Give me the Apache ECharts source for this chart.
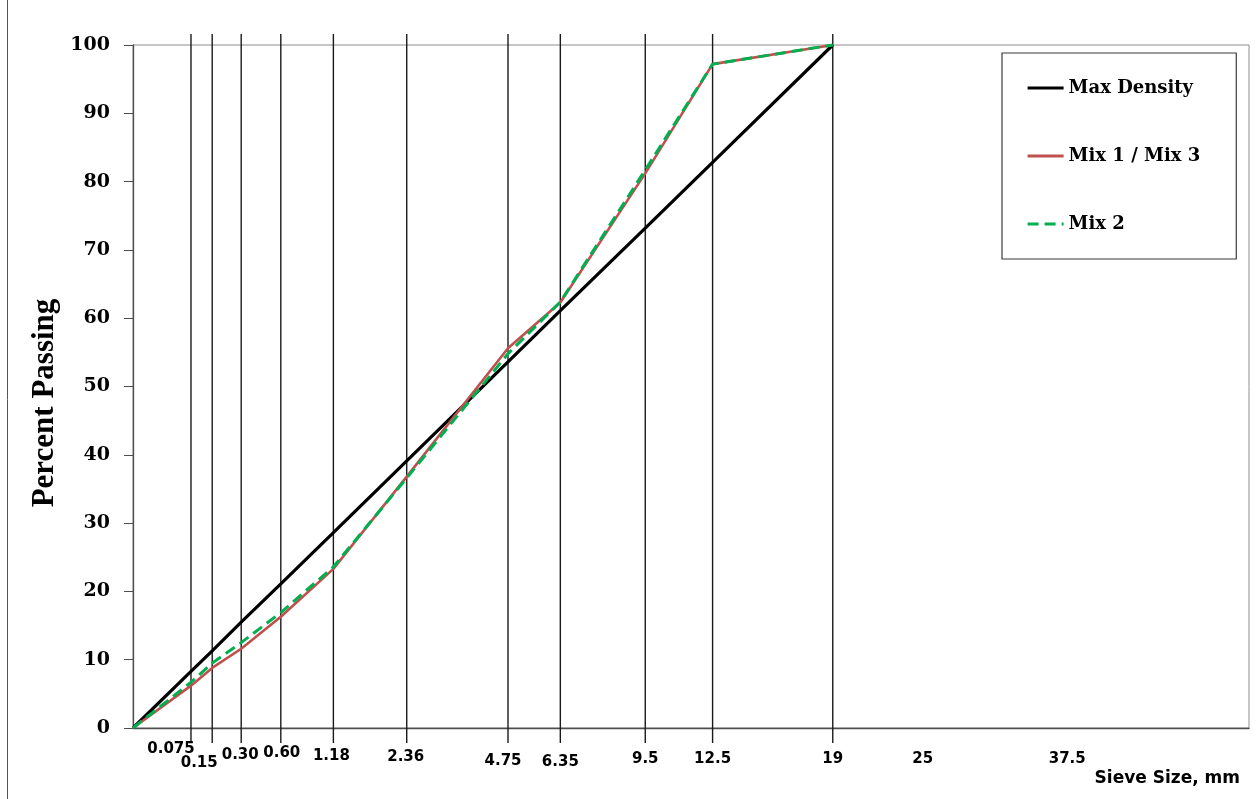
<!DOCTYPE html>
<html>
<head>
<meta charset="utf-8">
<title>Gradation chart (0.45 power)</title>
<script src="https://cdn.jsdelivr.net/npm/echarts@6/dist/echarts.min.js"></script>
<style>
  html, body { margin: 0; padding: 0; background: #ffffff; }
  #chart { width: 1260px; height: 799px; }
</style>
</head>
<body>
<div id="chart"></div>
<script>
// Sieve openings (mm) at which the gradations are reported
const sieveSizes = [0, 0.075, 0.15, 0.3, 0.6, 1.18, 2.36, 4.75, 6.35, 9.5, 12.5, 19];
// Percent passing at each sieve
const maxDensity = [0, 8.3, 11.3, 15.5, 21.1, 28.6, 39.1, 53.6, 61.1, 73.2, 82.8, 100];
const mix1Mix3   = [0, 6.2, 8.8, 11.6, 16.3, 23.3, 36.8, 55.6, 62.3, 81.2, 97.2, 100];
const mix2       = [0, 6.7, 9.5, 12.5, 16.9, 23.6, 36.6, 54.8, 62.4, 81.7, 97.2, 100];
// Sieves that get a vertical guide line
const guideSieves = [0.075, 0.15, 0.3, 0.6, 1.18, 2.36, 4.75, 6.35, 9.5, 12.5, 19];
// Labels written under the horizontal axis
const tickSizes  = [0.075, 0.15, 0.3, 0.6, 1.18, 2.36, 4.75, 6.35, 9.5, 12.5, 19, 25, 37.5];
const tickLabels = ['0.075', '0.15', '0.30', '0.60', '1.18', '2.36', '4.75', '6.35', '9.5', '12.5', '19', '25', '37.5'];
const yTicks = [0, 10, 20, 30, 40, 50, 60, 70, 80, 90, 100];

// Horizontal scale is sieve size raised to the 0.45 power
const POWER = 0.45;
const px = s => Math.pow(s, POWER);

// Per-label nudges [dx, dy] so crowded fine-sieve labels stay readable
const labelNudge = [
  [-20, 21], [-13, 35], [-1, 27], [1, 25], [-2, 28], [-1, 29], [-5, 33],
  [0, 34], [0, 31], [0, 31], [0, 31], [-2, 31], [-16, 31]
];

const pairs = vals => sieveSizes.map((s, i) => [px(s), vals[i]]);

const chart = echarts.init(document.getElementById('chart'), null, { renderer: 'canvas' });

const option = {
  backgroundColor: '#ffffff',
  animation: false,
  grid: {
    left: 133, right: 11, top: 45, bottom: 71,
    show: true, borderColor: '#8c8c8c', borderWidth: 1, backgroundColor: 'transparent'
  },
  xAxis: {
    type: 'value', min: 0, max: 6,
    axisLine: { show: true, onZero: false, lineStyle: { color: '#4d4d4d', width: 1.3 } },
    axisTick: { show: false },
    axisLabel: { show: false },
    splitLine: { show: false }
  },
  yAxis: {
    type: 'value', min: 0, max: 100, interval: 10,
    axisLine: { show: true, lineStyle: { color: '#4d4d4d', width: 1.3 } },
    axisTick: { show: true, inside: false, length: 9, lineStyle: { color: '#4d4d4d' } },
    axisLabel: {
      margin: 23,
      fontFamily: 'DejaVu Serif', fontWeight: 'bold', fontSize: 19, color: '#000',
      formatter: v => (yTicks.indexOf(v) >= 0 ? String(v) : '')
    },
    splitLine: { show: false }
  },
  legend: {
    data: [
      { name: 'Max Density', lineStyle: { width: 3.2 } },
      { name: 'Mix 1 / Mix 3', lineStyle: { width: 2.8 } },
      { name: 'Mix 2', lineStyle: { width: 3 } }
    ],
    orient: 'vertical',
    left: 1002, top: 53,
    padding: [26, 36, 26, 24],
    itemWidth: 36, itemHeight: 14, itemGap: 50,
    itemStyle: { opacity: 0 },
    backgroundColor: '#ffffff',
    borderColor: '#3a3a3a', borderWidth: 1.2,
    textStyle: { fontFamily: 'DejaVu Serif', fontWeight: 'bold', fontSize: 18, color: '#000' }
  },
  graphic: [
    {
      type: 'text',
      x: 45, y: 403, rotation: Math.PI / 2,
      style: {
        text: 'Percent Passing', fill: '#000',
        font: 'bold 31px "Liberation Serif", serif',
        align: 'center', verticalAlign: 'middle'
      }
    },
    {
      type: 'text',
      x: 1240, y: 779,
      style: {
        text: 'Sieve Size, mm', fill: '#000',
        font: 'bold 17px "DejaVu Sans", sans-serif',
        align: 'right', verticalAlign: 'middle'
      }
    },
    {
      type: 'line',
      shape: { x1: 7.5, y1: 0, x2: 7.5, y2: 799 },
      style: { stroke: '#555', lineWidth: 1 }
    }
  ],
  series: [
    {
      // vertical guide lines at each sieve
      type: 'custom', silent: true, clip: false, z: 1,
      encode: { x: 0, y: 1 },
      data: guideSieves.map(s => [px(s), 0]),
      renderItem: (params, api) => {
        const top = api.coord([api.value(0), 100]);
        const bot = api.coord([api.value(0), 0]);
        return {
          type: 'line',
          shape: { x1: top[0], y1: top[1] - 11, x2: top[0], y2: bot[1] + 15 },
          style: { stroke: '#1a1a1a', lineWidth: 1.4 }
        };
      }
    },
    {
      // sieve size labels under the axis
      type: 'custom', silent: true, clip: false, z: 3,
      encode: { x: 0, y: 1 },
      data: tickSizes.map((s, i) => [px(s), 0, i]),
      renderItem: (params, api) => {
        const i = api.value(2);
        const p = api.coord([api.value(0), 0]);
        return {
          type: 'text',
          x: p[0] + labelNudge[i][0], y: p[1] + labelNudge[i][1],
          style: {
            text: tickLabels[i], fill: '#000',
            font: 'bold 15px "DejaVu Sans", sans-serif',
            align: 'center', verticalAlign: 'middle'
          }
        };
      }
    },
    {
      name: 'Max Density', type: 'line', z: 4,
      symbol: 'none', showSymbol: false,
      lineStyle: { color: '#000000', width: 3.2 },
      itemStyle: { color: '#000000' },
      data: pairs(maxDensity)
    },
    {
      name: 'Mix 1 / Mix 3', type: 'line', z: 5,
      symbol: 'none', showSymbol: false,
      lineStyle: { color: '#C0504D', width: 2.6 },
      itemStyle: { color: '#C0504D' },
      data: pairs(mix1Mix3)
    },
    {
      name: 'Mix 2', type: 'line', z: 6,
      symbol: 'none', showSymbol: false,
      lineStyle: { color: '#00B050', width: 3, type: [11, 6] },
      itemStyle: { color: '#00B050' },
      data: pairs(mix2)
    }
  ]
};

chart.setOption(option);
</script>
</body>
</html>
